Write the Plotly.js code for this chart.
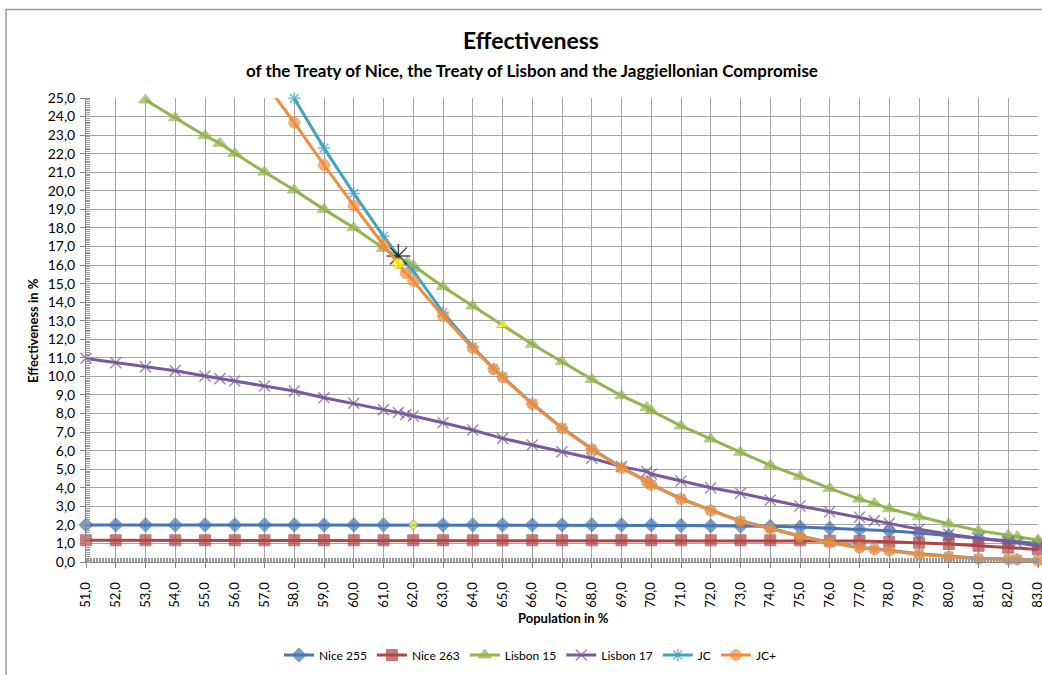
<!DOCTYPE html>
<html>
<head>
<meta charset="utf-8">
<script src="https://cdn.plot.ly/plotly-3.0.1.min.js"></script>
<style>
  html, body { margin: 0; padding: 0; overflow: hidden; background: #fff; }
  #chart { width: 1100px; height: 675px; }
</style>
</head>
<body>
<div id="chart"></div>
<script>
// ---- data ----
const popNice = [51,52,53,54,55,56,57,58,59,60,61,62,63,64,65,66,67,68,69,70,71,72,73,74,75,76,77,78,79,80,81,82,83];
const nice255 = [2.0,2.0,2.0,2.0,2.0,2.0,2.0,2.0,2.0,2.0,2.0,2.0,2.0,2.0,2.0,2.0,2.0,2.0,2.0,2.0,1.97,1.95,1.94,1.92,1.88,1.82,1.75,1.68,1.56,1.42,1.28,1.14,1.0];
const nice263 = [1.17,1.17,1.17,1.17,1.17,1.17,1.17,1.17,1.17,1.17,1.17,1.17,1.17,1.17,1.17,1.17,1.17,1.17,1.17,1.17,1.17,1.17,1.17,1.17,1.17,1.15,1.13,1.09,1.04,0.97,0.87,0.77,0.68];

const popLisbon15 = [53,54,55,55.5,56,57,58,59,60,61,61.8,62,63,64,65,66,67,68,69,69.85,70,71,72,73,74,75,76,77,77.5,78,79,80,81,82,82.3,83];
const lisbon15 = [24.89,23.94,22.97,22.56,22.02,21.01,20.04,19.0,18.01,16.9,16.15,15.97,14.83,13.79,12.77,11.73,10.79,9.84,8.96,8.33,8.15,7.33,6.63,5.91,5.21,4.6,3.97,3.39,3.16,2.87,2.44,2.05,1.69,1.45,1.36,1.19];

const popLisbon17 = [51,52,53,54,55,55.5,56,57,58,59,60,61,61.5,61.75,62,63,64,65,66,67,68,69,69.85,70,71,72,73,74,75,76,77,77.5,78,79,80,81,82,82.3,83];
const lisbon17 = [10.97,10.74,10.52,10.31,10.02,9.88,9.75,9.48,9.21,8.85,8.55,8.21,8.05,7.95,7.87,7.5,7.11,6.66,6.3,5.94,5.59,5.14,4.87,4.74,4.36,4.0,3.7,3.34,3.02,2.71,2.41,2.23,2.08,1.76,1.49,1.28,1.1,1.04,0.86];

const popJC = [58,59,60,61,61.5,62,63,64,64.7,65,66,67,68,69,69.85,70,71,72,73,74,75,76,77,77.5,78,79,80,81,82,82.3,83];
const jc = [24.98,22.3,19.86,17.55,16.49,15.68,13.45,11.6,10.42,9.98,8.54,7.23,6.1,5.1,4.36,4.18,3.42,2.8,2.22,1.83,1.4,1.07,0.8,0.71,0.64,0.44,0.32,0.2,0.16,0.15,0.08];

const popJCplus = [57,58,59,60,61,61.5,61.75,62,63,64,64.7,65,66,67,68,69,69.85,70,71,72,73,74,75,76,77,77.5,78,79,80,81,82,82.3,83];
const jcPlus = [25.85,23.67,21.39,19.2,17.08,16.09,15.56,15.14,13.25,11.51,10.38,9.95,8.51,7.2,6.07,5.07,4.33,4.15,3.39,2.77,2.19,1.8,1.37,1.04,0.77,0.68,0.61,0.41,0.29,0.18,0.14,0.14,0.07];

const seriesNames = ['Nice 255','Nice 263','Lisbon 15','Lisbon 17','JC','JC+'];
const xTickRange = [51, 83];
const yTickRange = [0, 25];

// highlighted single points (population value in each series)
const highlightAt = { 'Nice 255': 62, 'Lisbon 15': 65, 'JC': 61.5, 'JC+': 61.5 };

// ---- styling ----
const W = 1100, H = 675;
const M = { l: 86, r: 62, t: 98, b: 113, autoexpand: false };
const PW = W - M.l - M.r, PH = H - M.t - M.b;
const px2x = p => (p - M.l) / PW;
const py2y = p => (H - M.b - p) / PH;

const FONT = 'Lato, "Open Sans", sans-serif';

const styles = {
  'Nice 255':  { color: '#4677B4', symbol: 'diamond',      size: 11, hColor: '#FFFF00', hSize: 8,  open: false },
  'Nice 263':  { color: '#B04543', symbol: 'square',       size: 11, open: false },
  'Lisbon 15': { color: '#93B450', symbol: 'triangle-up',  size: 12, hColor: '#FFFF00', hSize: 10, open: false },
  'Lisbon 17': { color: '#775B9B', symbol: 'x-thin-open',  size: 11, open: true },
  'JC':        { color: '#41A3C0', symbol: 'asterisk-open',size: 10, hColor: '#000000', hSize: 20, open: true },
  'JC+':       { color: '#F08C3D', symbol: 'circle',       size: 11, hColor: '#FFFF00', hSize: 11, open: false }
};

const xs = [popNice, popNice, popLisbon15, popLisbon17, popJC, popJCplus];
const ys = [nice255, nice263, lisbon15, lisbon17, jc, jcPlus];

const traces = seriesNames.map((name, i) => {
  const st = styles[name];
  const hx = highlightAt[name];
  const colors = xs[i].map(v => (hx !== undefined && v === hx) ? st.hColor : st.color);
  const sizes = xs[i].map((v, k) => {
    if (ys[i][k] > yTickRange[1]) return 0;
    return (hx !== undefined && v === hx) ? st.hSize : st.size;
  });
  const marker = { symbol: st.symbol, color: colors, size: sizes };
  if (st.open) {
    marker.line = { width: 1.5, color: colors };
  } else {
    marker.line = { width: 1, color: st.color };
  }
  return {
    type: 'scatter', mode: 'lines+markers', name: name,
    x: xs[i], y: ys[i],
    line: { color: st.color, width: 3 },
    marker: marker,
    cliponaxis: false
  };
});

const axisCommon = {
  automargin: false,
  showgrid: true, gridcolor: '#A4A4A4', gridwidth: 1,
  showline: true, linecolor: '#868686', linewidth: 1,
  zeroline: false, ticks: 'outside', ticklen: 5, tickcolor: '#868686',
  tickformat: '.1f', dtick: 1,
  fixedrange: true
};

const layout = {
  width: W, height: H,
  margin: M,
  paper_bgcolor: '#fff', plot_bgcolor: '#fff',
  separators: ', ',
  showlegend: true,
  legend: {
    orientation: 'h', x: px2x(530), xanchor: 'center', y: py2y(655), yanchor: 'middle',
    font: { family: FONT, size: 12, color: '#000' },
    itemwidth: 30, tracegroupgap: 0
  },
  xaxis: Object.assign({}, axisCommon, {
    range: xTickRange, tick0: 51, tickangle: -90,
    tickfont: { family: FONT, size: 13, color: '#000' },
    ticklabelstandoff: 9,
    minor: { dtick: 0.05, ticks: 'inside', ticklen: 4, tickcolor: '#9a9a9a', tickwidth: 1, showgrid: false },
    title: { text: '' }
  }),
  yaxis: Object.assign({}, axisCommon, {
    range: yTickRange, tick0: 0,
    tickfont: { family: FONT, size: 14, color: '#000' },
    ticklabelstandoff: 2,
    minor: { dtick: 0.1, ticks: 'inside', ticklen: 4, tickcolor: '#9a9a9a', tickwidth: 1, showgrid: false },
    title: { text: '' }
  }),
  annotations: [
    { text: '<b>Effectiveness</b>', xref: 'paper', yref: 'paper', x: px2x(531), y: py2y(40),
      xanchor: 'center', yanchor: 'middle', showarrow: false,
      font: { family: FONT, size: 23, color: '#000' } },
    { text: '<b>of the Treaty of Nice, the Treaty of Lisbon and the Jaggiellonian Compromise</b>',
      xref: 'paper', yref: 'paper', x: px2x(532), y: py2y(70),
      xanchor: 'center', yanchor: 'middle', showarrow: false,
      font: { family: FONT, size: 17, color: '#000' } },
    { text: '<b>Population in %</b>', xref: 'paper', yref: 'paper', x: px2x(563), y: py2y(618),
      xanchor: 'center', yanchor: 'middle', showarrow: false,
      font: { family: FONT, size: 13, color: '#000' } },
    { text: '<b>Effectiveness in %</b>', xref: 'paper', yref: 'paper', x: px2x(33), y: py2y(331),
      xanchor: 'center', yanchor: 'middle', showarrow: false, textangle: -90,
      font: { family: FONT, size: 13, color: '#000' } }
  ],
  shapes: [
    { type: 'rect', xref: 'paper', yref: 'paper',
      x0: px2x(6), x1: px2x(1056), y0: py2y(720), y1: py2y(9.5),
      line: { color: '#9a9a9a', width: 1.5 }, fillcolor: 'rgba(0,0,0,0)', layer: 'below' }
  ]
};

Plotly.newPlot('chart', traces, layout, { staticPlot: true, displayModeBar: false });
</script>
</body>
</html>
